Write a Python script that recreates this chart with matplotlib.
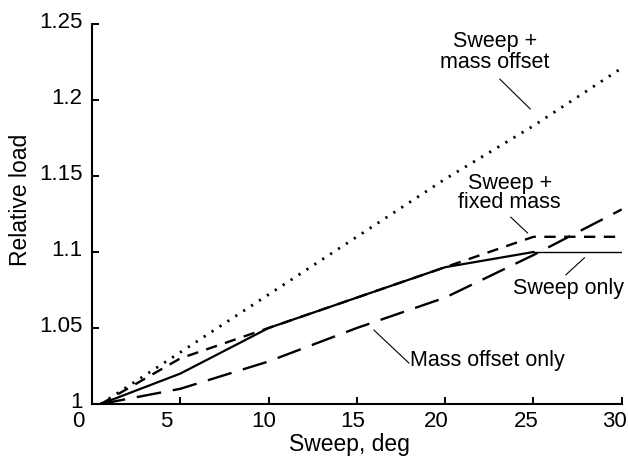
import matplotlib
matplotlib.use("Agg")
import matplotlib.pyplot as plt
import matplotlib.transforms as mtransforms

plt.rcParams['font.family'] = ['Liberation Sans', 'DejaVu Sans']

# ---- data ----
sweep_only_x = [0.5, 5, 10, 20, 25]
sweep_only_y = [1.0, 1.02, 1.05, 1.09, 1.10]
sweep_only_tail_x = [25, 30]
sweep_only_tail_y = [1.10, 1.10]

fixed_mass_x = [0.5, 5, 10, 20, 25, 30]
fixed_mass_y = [1.0, 1.03, 1.05, 1.09, 1.11, 1.11]

mass_offset_only_x = [0.5, 5, 10, 15, 20, 25, 30]
mass_offset_only_y = [1.0, 1.01, 1.028, 1.05, 1.07, 1.098, 1.128]

sweep_mass_offset_x = [0.5, 5, 10, 15, 20, 25, 30]
sweep_mass_offset_y = [1.0, 1.034, 1.072, 1.11, 1.148, 1.183, 1.221]

x_ticks = [0, 5, 10, 15, 20, 25, 30]
x_ticklabels = ['0', '5', '10', '15', '20', '25', '30']
y_ticks = [1.0, 1.05, 1.1, 1.15, 1.2, 1.25]
y_ticklabels = ['1', '1.05', '1.1', '1.15', '1.2', '1.25']

fig = plt.figure(figsize=(6.28, 4.59), dpi=100)
ax = fig.add_axes([92/628, 1-404/459, (621.7-92)/628, (404-24)/459])

ax.plot(sweep_mass_offset_x, sweep_mass_offset_y, color='black', lw=2.0,
        linestyle=(0, (0.8, 2.6)), dash_capstyle='butt')
ax.plot(fixed_mass_x, fixed_mass_y, color='black', lw=1.7,
        linestyle=(0, (4.8, 3.6)))
ax.plot(mass_offset_only_x, mass_offset_only_y, color='black', lw=1.7,
        linestyle=(0, (10.5, 5.0)))
ax.plot(sweep_only_x, sweep_only_y, color='black', lw=1.6, solid_joinstyle='miter')
ax.plot(sweep_only_tail_x, sweep_only_tail_y, color='black', lw=1.0)

ax.set_xlim(0, 30)
ax.set_ylim(1.0, 1.25)
for s in ['top', 'right']:
    ax.spines[s].set_visible(False)
for s in ['left', 'bottom']:
    ax.spines[s].set_linewidth(1.5)

ax.set_xticks(x_ticks)
ax.set_xticklabels(x_ticklabels)
ax.set_yticks(y_ticks)
ax.set_yticklabels(y_ticklabels)
ax.tick_params(axis='both', direction='in', length=5, width=1.4, labelsize=16)
ax.tick_params(axis='x', pad=5)
ax.tick_params(axis='y', pad=7)

x_offsets_px = [-14, -14, -5, -4, -9, -7, -7]
for lab, dx in zip(ax.get_xticklabels(), x_offsets_px):
    lab.set_transform(lab.get_transform() +
                      mtransforms.ScaledTranslation(dx/100, 0, fig.dpi_scale_trans))
for lab in ax.get_yticklabels():
    lab.set_transform(lab.get_transform() +
                      mtransforms.ScaledTranslation(0, 4/100, fig.dpi_scale_trans))

ax.set_xlabel('Sweep, deg', fontsize=16.5, va='center')
ax.xaxis.set_label_coords((349-92)/529.7, (404-444)/380)
ax.set_ylabel('Relative load', fontsize=16.5, va='center')
ax.yaxis.set_label_coords((20.5-92)/529.7, (404-200)/380)

# annotations
ann_font = 15.5
lp = dict(arrowstyle='-', lw=0.8, color='black', shrinkA=0, shrinkB=0)

ax.text(22.81, 1.2316, 'Sweep +\nmass offset', ha='center', va='center',
        fontsize=ann_font, linespacing=1.0)
ax.annotate('', xy=(24.83, 1.194), xytext=(23.09, 1.2138), arrowprops=lp)

ax.text(23.66, 1.139, 'Sweep +\nfixed mass', ha='center', va='center',
        fontsize=ann_font, linespacing=0.85)
ax.annotate('', xy=(24.67, 1.1125), xytext=(23.71, 1.123), arrowprops=lp)

ax.text(26.97, 1.0757, 'Sweep only', ha='center', va='center', fontsize=ann_font)
ax.annotate('', xy=(27.9, 1.0963), xytext=(26.83, 1.0849), arrowprops=lp)

ax.text(18.0, 1.0286, 'Mass offset only', ha='left', va='center', fontsize=ann_font)
ax.annotate('', xy=(17.96, 1.0268), xytext=(15.96, 1.0487), arrowprops=lp)

fig.savefig('out.png', dpi=100)
